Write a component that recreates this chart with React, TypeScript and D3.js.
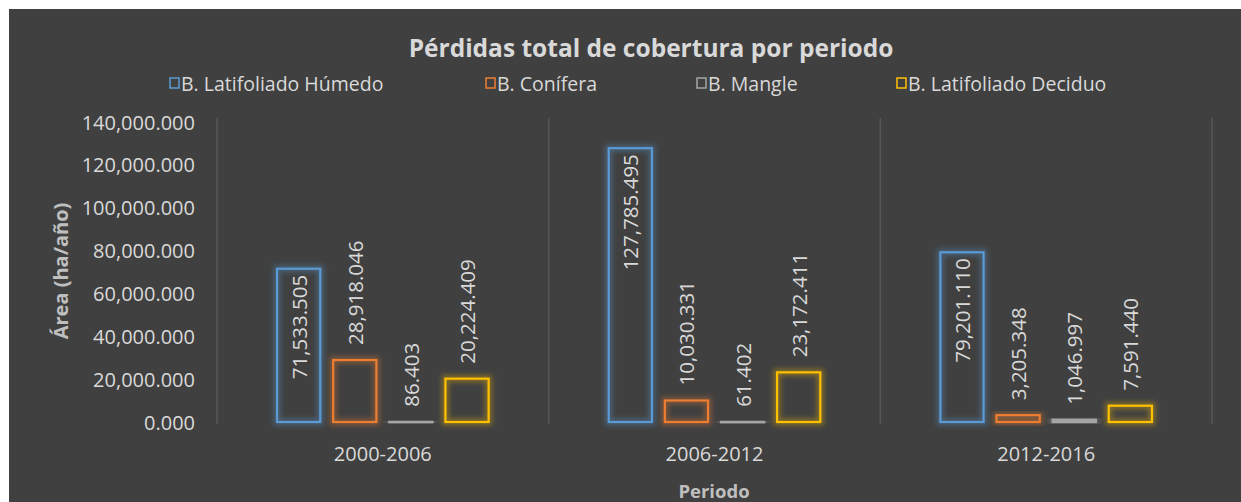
import React from "react";
import * as d3 from "d3";

const categories = ["2000-2006", "2006-2012", "2012-2016"];
const seriesNames = ["B. Latifoliado Húmedo", "B. Conífera", "B. Mangle", "B. Latifoliado Deciduo"];
const humedo = [71533.505, 127785.495, 79201.11];
const conifera = [28918.046, 10030.331, 3205.348];
const mangle = [86.403, 61.402, 1046.997];
const deciduo = [20224.409, 23172.411, 7591.44];
const yTicks = [0, 20000, 40000, 60000, 80000, 100000, 120000, 140000];
const seriesColors = ["#5b9bd5", "#ed7d31", "#a5a5a5", "#ffc000"];
const legendX = [170, 486, 697, 897];

const W = 1241;
const H = 502;

export default function App() {
  const seriesValues = [humedo, conifera, mangle, deciduo];
  const x = d3.scaleBand<string>().domain(categories).range([217, 1212]).padding(0);
  const xs = d3
    .scaleBand<number>()
    .domain([0, 1, 2, 3])
    .range([0, x.bandwidth()])
    .paddingInner(0.23)
    .paddingOuter(1.07);
  const y = d3.scaleLinear().domain([0, 140000]).range([422, 122]);
  const fmt = d3.format(",.3f");
  const font = "'Open Sans', sans-serif";
  const txt = "#d9d9d9";
  const dividers = [...categories.map((c) => x(c)!), 1212];

  return (
    <svg
      width={W}
      height={H}
      style={{ position: "absolute", left: 0, top: 0 }}
      fontFamily={font}
    >
      <defs>
        <filter id="glow" x="-50%" y="-50%" width="200%" height="200%">
          <feGaussianBlur stdDeviation="2.5" />
        </filter>
      </defs>
      <rect x={0} y={0} width={W} height={H} fill="#ffffff" />
      <rect x={9} y={9} width={W - 9} height={H - 9} fill="#404040" />

      {dividers.map((dx, i) => (
        <line key={i} x1={dx} x2={dx} y1={118} y2={424} stroke="#575757" strokeWidth={1.5} />
      ))}

      <text x={651} y={47} textAnchor="middle" dominantBaseline="central" fill={txt} fontSize={24.5} fontWeight="bold">
        Pérdidas total de cobertura por periodo
      </text>

      {seriesNames.map((n, i) => (
        <g key={n}>
          <rect x={legendX[i]} y={78} width={9} height={10} fill="none" stroke={seriesColors[i]} strokeWidth={1.5} />
          <text x={legendX[i] + 11} y={83} dominantBaseline="central" fill={txt} fontSize={19.5}>
            {n}
          </text>
        </g>
      ))}

      {yTicks.map((t) => (
        <text key={t} x={195} y={y(t)} textAnchor="end" dominantBaseline="central" fill={txt} fontSize={20}>
          {fmt(t)}
        </text>
      ))}

      <text
        transform={`translate(60,271) rotate(-90)`}
        textAnchor="middle"
        dominantBaseline="central"
        fill="#bfbfbf"
        fontSize={20}
        fontWeight="bold"
      >
        Área (ha/año)
      </text>

      {categories.map((c, ci) => (
        <g key={c}>
          {seriesValues.map((vals, si) => {
            const v = vals[ci];
            const bx = x(c)! + xs(si)!;
            const bw = xs.bandwidth();
            const top = y(v);
            const h = Math.max(0.5, y(0) - top);
            const inside = si === 0;
            const cx = bx + bw / 2;
            return (
              <g key={si}>
                <rect
                  x={bx}
                  y={top}
                  width={bw}
                  height={h}
                  fill="none"
                  stroke={seriesColors[si]}
                  strokeOpacity={0.35}
                  strokeWidth={7}
                  filter="url(#glow)"
                />
                <rect x={bx} y={top} width={bw} height={h} fill="none" stroke={seriesColors[si]} strokeWidth={2.2} />
                <text
                  transform={`translate(${cx},${inside ? top + 6 : top - 15}) rotate(-90)`}
                  textAnchor={inside ? "end" : "start"}
                  dominantBaseline="central"
                  fill={txt}
                  fontSize={20.5}
                >
                  {fmt(v)}
                </text>
              </g>
            );
          })}
          <text x={x(c)! + x.bandwidth() / 2} y={453} textAnchor="middle" dominantBaseline="central" fill={txt} fontSize={20}>
            {c}
          </text>
        </g>
      ))}

      <text x={714} y={490} textAnchor="middle" dominantBaseline="central" fill="#bfbfbf" fontSize={18.5} fontWeight="bold">
        Periodo
      </text>
    </svg>
  );
}
